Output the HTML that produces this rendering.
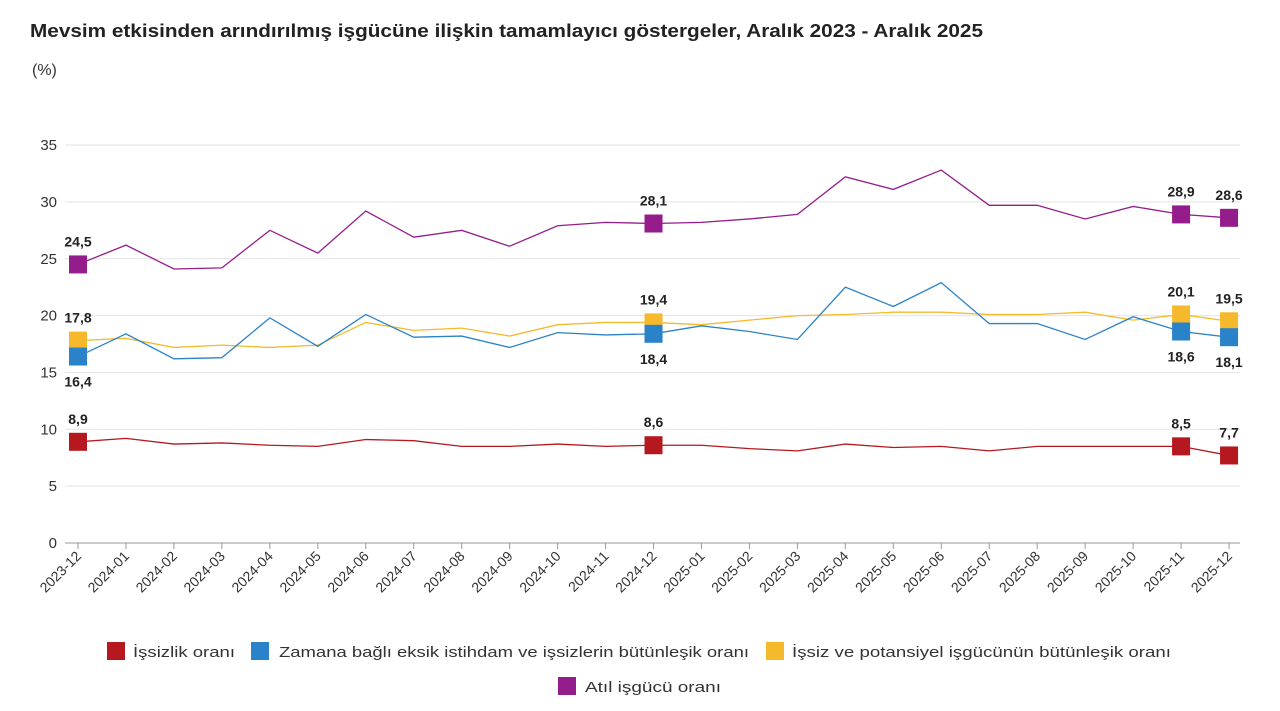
<!DOCTYPE html>
<html><head><meta charset="utf-8"><style>
body{margin:0;background:#fff;font-family:"Liberation Sans",sans-serif;}
svg{display:block}
</style></head><body>
<svg width="1280" height="711" xmlns="http://www.w3.org/2000/svg" font-family="Liberation Sans, sans-serif">
<text x="30" y="37" font-size="18" font-weight="bold" fill="#222" textLength="953" lengthAdjust="spacingAndGlyphs">Mevsim etkisinden arındırılmış işgücüne ilişkin tamamlayıcı göstergeler, Aralık 2023 - Aralık 2025</text>
<text x="32" y="75" font-size="16" fill="#333">(%)</text>
<g id="grid"></g>
<g id="series"></g>
<g font-size="15" fill="#333">
<rect x="107" y="642" width="18" height="18" fill="#b5191f"/><text x="133" y="657" textLength="102" lengthAdjust="spacingAndGlyphs">İşsizlik oranı</text>
<rect x="251" y="642" width="18" height="18" fill="#2a82c9"/><text x="279" y="657" textLength="470" lengthAdjust="spacingAndGlyphs">Zamana bağlı eksik istihdam ve işsizlerin bütünleşik oranı</text>
<rect x="766" y="642" width="18" height="18" fill="#f6b92b"/><text x="792" y="657" textLength="379" lengthAdjust="spacingAndGlyphs">İşsiz ve potansiyel işgücünün bütünleşik oranı</text>
<rect x="558" y="677" width="18" height="18" fill="#951c8b"/><text x="585" y="692" textLength="136" lengthAdjust="spacingAndGlyphs">Atıl işgücü oranı</text>
</g>
</svg>
<script>
const NS="http://www.w3.org/2000/svg";
const X=i=>78+i*47.96, Y=v=>543-v*11.37;
function el(t,a,p,txt){const e=document.createElementNS(NS,t);for(const k in a)e.setAttribute(k,a[k]);if(txt!=null)e.textContent=txt;p.appendChild(e);return e;}
const g=document.getElementById('grid'), s=document.getElementById('series');
for(let v=0;v<=35;v+=5){el('line',{x1:65,x2:1240,y1:Y(v),y2:Y(v),stroke:v?'#e3e3e3':'#999','stroke-width':1},g);
el('text',{x:57,y:Y(v)+5,'font-size':15,'text-anchor':'end',fill:'#333'},g,v);}
const labs=[];for(let i=0;i<25;i++){const y=2023+Math.floor((i+11)/12),m=((i+11)%12)+1;labs.push(y+'-'+String(m).padStart(2,'0'));}
labs.forEach((l,i)=>{el('line',{x1:X(i),x2:X(i),y1:543,y2:549,stroke:'#999'},g);
el('text',{x:X(i)+4,y:557,'font-size':14,'text-anchor':'end',fill:'#333',transform:`rotate(-45 ${X(i)+4} 557)`},g,l);});
const D=[
['#b5191f',[8.9,9.2,8.7,8.8,8.6,8.5,9.1,9.0,8.5,8.5,8.7,8.5,8.6,8.6,8.3,8.1,8.7,8.4,8.5,8.1,8.5,8.5,8.5,8.5,7.7],{0:-18,12:-18,23:-18,24:-18}],
['#f6b92b',[17.8,18.0,17.2,17.4,17.2,17.4,19.4,18.7,18.9,18.2,19.2,19.4,19.4,19.2,19.6,20.0,20.1,20.3,20.3,20.1,20.1,20.3,19.6,20.1,19.5],{0:-18,12:-18,23:-18,24:-18}],
['#2a82c9',[16.4,18.4,16.2,16.3,19.8,17.3,20.1,18.1,18.2,17.2,18.5,18.3,18.4,19.1,18.6,17.9,22.5,20.8,22.9,19.3,19.3,17.9,19.9,18.6,18.1],{0:30,12:30,23:30,24:30}],
['#951c8b',[24.5,26.2,24.1,24.2,27.5,25.5,29.2,26.9,27.5,26.1,27.9,28.2,28.1,28.2,28.5,28.9,32.2,31.1,32.8,29.7,29.7,28.5,29.6,28.9,28.6],{0:-18,12:-18,23:-18,24:-18}]];
D.forEach(([c,d])=>{el('polyline',{points:d.map((v,i)=>X(i)+','+Y(v)).join(' '),fill:'none',stroke:c,'stroke-width':1.3},s);});
D.forEach(([c,d,lb])=>{for(const k in lb){const i=+k;el('rect',{x:X(i)-9,y:Y(d[i])-9,width:18,height:18,fill:c},s);
el('text',{x:X(i),y:Y(d[i])+lb[k],'font-size':14,'font-weight':'bold','text-anchor':'middle',fill:'#222'},s,String(d[i]).replace('.',','));}});
</script>
</body></html>
